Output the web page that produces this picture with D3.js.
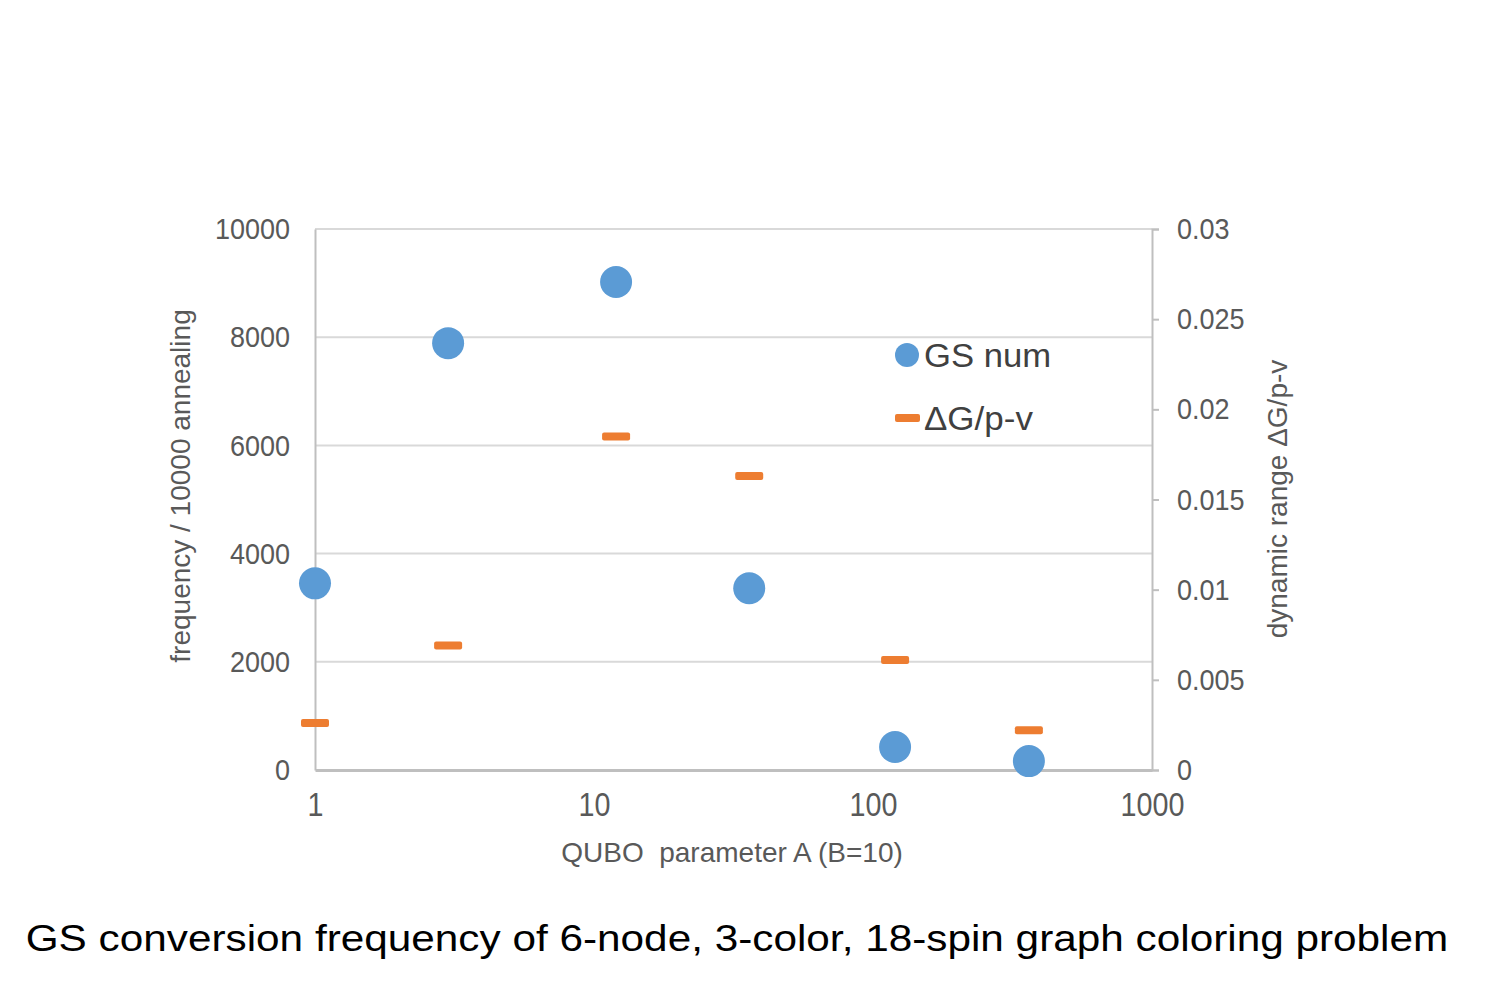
<!DOCTYPE html>
<html><head><meta charset="utf-8">
<script src="https://cdn.jsdelivr.net/npm/d3@7/dist/d3.min.js"></script>
<style>body{margin:0;background:#fff;}svg{display:block;font-family:"Liberation Sans",Arial,sans-serif;}</style>
</head><body>
<svg id="chart" width="1495" height="990"></svg>
<script>
const paramA = [1, 3, 12, 36, 120, 362];
const gsNum = [3450, 7890, 9020, 3360, 425, 165];
const dynRange = [0.0026, 0.0069, 0.0185, 0.0163, 0.0061, 0.0022];
const xTicks = [1, 10, 100, 1000];
const yLeftTicks = [0, 2000, 4000, 6000, 8000, 10000];
const yRightTicks = [0, 0.005, 0.01, 0.015, 0.02, 0.025, 0.03];
const seriesNames = ["GS num", "ΔG/p-v"];

const svg = d3.select("#chart");
const L = 315, R = 1152, T = 229, B = 770;
const x = d3.scaleLog().domain([1, 1000]).range([L, R]);
const yL = d3.scaleLinear().domain([0, 10000]).range([B, T]);
const yR = d3.scaleLinear().domain([0, 0.03]).range([B, T]);
const labelColor = "#595959";
const FF = "Liberation Sans, Arial, sans-serif";

function stretchX(sel, factor) {
  sel.each(function() {
    const w = this.getComputedTextLength();
    d3.select(this).attr("textLength", w * factor).attr("lengthAdjust", "spacingAndGlyphs");
  });
}

// gridlines
svg.append("g").selectAll("line").data(yLeftTicks.filter(d => d > 0)).join("line")
  .attr("x1", L).attr("x2", R).attr("y1", d => yL(d)).attr("y2", d => yL(d))
  .attr("stroke", "#d9d9d9").attr("stroke-width", 2);

// left axis
const gL = svg.append("g").attr("transform", `translate(${L},0)`)
  .call(d3.axisLeft(yL).tickValues(yLeftTicks).tickSize(0).tickPadding(25).tickFormat(d3.format("d")));
gL.select(".domain").attr("stroke", "#bfbfbf").attr("stroke-width", 2);
gL.selectAll("text").attr("font-size", 30).attr("fill", labelColor).attr("font-family", FF).call(stretchX, 0.9);

// right axis
const gR = svg.append("g").attr("transform", `translate(${R},0)`)
  .call(d3.axisRight(yR).tickValues(yRightTicks).tickSize(7).tickPadding(18).tickFormat(d => d === 0 ? "0" : String(+d.toFixed(3))));
gR.select(".domain").attr("stroke", "#bfbfbf").attr("stroke-width", 2);
gR.selectAll(".tick line").attr("stroke", "#bfbfbf").attr("stroke-width", 2);
gR.selectAll("text").attr("font-size", 30).attr("fill", labelColor).attr("font-family", FF).call(stretchX, 0.9);

// bottom axis
const gB = svg.append("g").attr("transform", `translate(0,${B})`)
  .call(d3.axisBottom(x).tickValues(xTicks).tickSize(0).tickPadding(23).tickFormat(d3.format("d")));
gB.select(".domain").attr("stroke", "#bfbfbf").attr("stroke-width", 3);
gB.selectAll("text").attr("font-size", 33).attr("fill", labelColor).attr("font-family", FF).call(stretchX, 0.87);

// axis titles
svg.append("text").attr("transform", `translate(190,486) rotate(-90)`).attr("text-anchor", "middle")
  .attr("font-size", 28).attr("fill", labelColor).text("frequency / 10000 annealing");
svg.append("text").attr("transform", `translate(1287,499) rotate(-90)`).attr("text-anchor", "middle")
  .attr("font-size", 28).attr("fill", labelColor).text("dynamic range ΔG/p-v");
svg.append("text").attr("x", 732).attr("y", 862).attr("text-anchor", "middle")
  .attr("font-size", 28).attr("fill", labelColor).attr("xml:space", "preserve").text("QUBO  parameter A (B=10)");

// series: dashes (orange)
svg.append("g").selectAll("rect").data(paramA).join("rect")
  .attr("x", d => x(d) - 14).attr("y", (d, i) => yR(dynRange[i]) - 4)
  .attr("width", 28).attr("height", 8).attr("rx", 2)
  .attr("fill", "#ed7d31");

// series: circles (blue)
svg.append("g").selectAll("circle").data(paramA).join("circle")
  .attr("cx", d => x(d)).attr("cy", (d, i) => yL(gsNum[i])).attr("r", 16)
  .attr("fill", "#5b9bd5");

// legend
svg.append("circle").attr("cx", 907).attr("cy", 355).attr("r", 12).attr("fill", "#5b9bd5");
svg.append("text").attr("x", 924).attr("y", 367).attr("font-size", 33).attr("fill", "#404040").text(seriesNames[0]).call(stretchX, 1.05);
svg.append("rect").attr("x", 895).attr("y", 414).attr("width", 25).attr("height", 8).attr("rx", 2).attr("fill", "#ed7d31");
svg.append("text").attr("x", 924).attr("y", 430).attr("font-size", 33).attr("fill", "#404040").text(seriesNames[1]).call(stretchX, 1.06);

// caption
svg.append("text").attr("x", 737).attr("y", 951).attr("text-anchor", "middle")
  .attr("font-size", 36).attr("fill", "#000").text("GS conversion frequency of 6-node, 3-color, 18-spin graph coloring problem").call(stretchX, 1.175);
</script>
</body></html>
